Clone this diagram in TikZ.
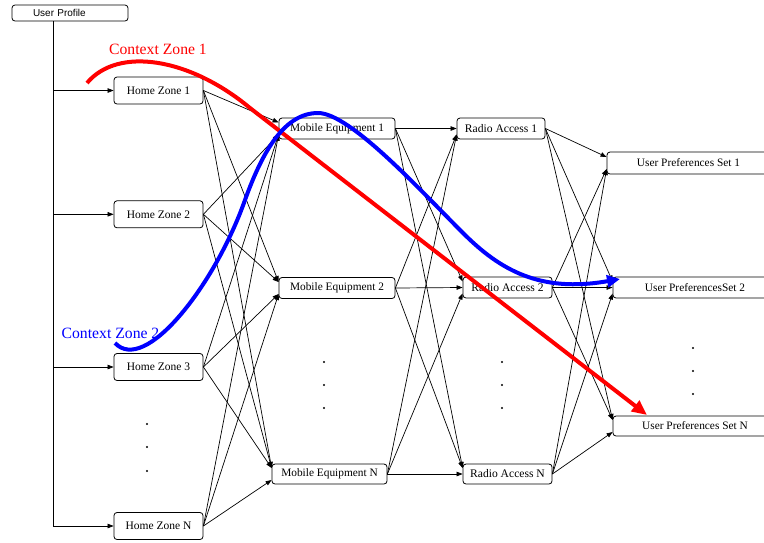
\documentclass[tikz,border=0pt]{standalone}
\usepackage{fontspec}
\setmainfont{Liberation Serif}
\newfontfamily\profilefont{Liberation Sans}
\usetikzlibrary{arrows.meta}
\begin{document}
\begin{tikzpicture}[x=1pt,y=-1pt,
  box/.style={draw, line width=0.8pt, rounded corners=3pt, fill=white,
    inner sep=0pt, font=\fontsize{11.35}{12}\selectfont},
  hzbox/.style={box, minimum width=89pt, minimum height=27pt,
    font=\fontsize{11.5}{12}\selectfont},
  rabox/.style={box, minimum width=89pt, font=\fontsize{11.6}{12}\selectfont},
  conn/.style={line width=0.7pt, -{Triangle[length=6pt,width=4.5pt]}},
  zone/.style={line width=4pt, line cap=butt},
  zonelabel/.style={inner sep=0pt, font=\fontsize{15.7}{18}\selectfont}
]
\useasboundingbox (0,0) rectangle (764,542);
\clip (0,0) rectangle (764,542);

% root of the tree
\node[box, minimum height=16pt, text width=74pt, align=left, inner xsep=21pt,
      font=\profilefont\fontsize{10}{12}\selectfont] (prof) at (70,13) {User Profile};

% home zones
\node[hzbox] (hz1) at (158.5,90.5) {Home Zone 1};
\node[hzbox] (hz2) at (158.5,214.3) {Home Zone 2};
\node[hzbox] (hz3) at (158.5,367) {Home Zone 3};
\node[hzbox] (hz4) at (158.5,526) {Home Zone N};

% mobile equipment
\node[box, minimum width=116pt, minimum height=21pt] (me1) at (337,128.5) {Mobile Equipment 1};
\node[box, minimum width=116pt, minimum height=21pt] (me2) at (337,288) {Mobile Equipment 2};
\node[box, minimum width=115pt, minimum height=20pt] (me3) at (329.5,474) {Mobile Equipment N};

% radio access
\node[rabox, minimum width=88pt, minimum height=21pt] (ra1) at (501,128.5) {Radio Access 1};
\node[rabox, minimum height=21pt] (ra2) at (507.5,287.5) {Radio Access 2};
\node[rabox, minimum height=20pt] (ra3) at (507.5,474) {Radio Access N};

% user preference sets
\node[box, minimum width=163pt, minimum height=22pt] (up1) at (688.5,163) {User Preferences Set 1};
\node[box, minimum width=164pt, minimum height=21pt] (up2) at (695,287.5) {User PreferencesSet 2};
\node[box, minimum width=164pt, minimum height=20pt] (up3) at (695,426) {User Preferences Set N};

% trunk from the profile to the home zones
\coordinate (trunk) at ([xshift=-17pt]prof.south);
\draw[line width=0.7pt] (trunk) -- (trunk |- hz4);
\foreach \h in {hz1,hz2,hz3,hz4}
  \draw[conn] (trunk |- \h) -- (\h.west);

% full mesh between neighbouring columns
\foreach \s/\t/\o in {
    hz1/me1/6, hz2/me1/-6, hz3/me1/-6, hz4/me1/-6,
    hz1/me2/6, hz2/me2/6,  hz3/me2/-6, hz4/me2/-6,
    hz1/me3/6, hz2/me3/6,  hz3/me3/6,  hz4/me3/-6,
    me1/ra1/0, me1/ra2/6,  me1/ra3/6,
    me2/ra1/-6, me2/ra2/0, me2/ra3/6,
    me3/ra1/-6, me3/ra2/-6, me3/ra3/0,
    ra1/up1/6, ra2/up1/-6, ra3/up1/-6,
    ra1/up2/6, ra2/up2/0,  ra3/up2/-6,
    ra1/up3/6, ra2/up3/6,  ra3/up3/-6}
  \draw[conn] (\s.east) -- ([yshift=\o pt]\t.west);

% ellipsis dots in each column
\foreach \x/\y in {147/424, 147/447, 147/471,
                   324/362, 324/385, 324/408,
                   502/362, 502/385, 502/408,
                   693/348, 693/371, 693/394}
  \fill (\x,\y) circle (1.2pt);

% context zones
\node[zonelabel, text=red] (cz1) at (158,49.5) {Context Zone 1};
\node[zonelabel, text=blue] (cz2) at (110.5,333) {Context Zone 2};

\draw[zone, red, -{Triangle[length=15pt,width=13pt]}]
  (87,83) .. controls (118,46) and (190,58) .. (250,108) -- (647,415);

\draw[zone, blue, -{Triangle[length=13pt,width=12pt]}]
  (115,343) .. controls (145,375) and (215,285) .. (245,200)
  .. controls (263,150) and (285,113) .. (318,113)
  .. controls (350,113) and (420,190) .. (463,233)
  .. controls (500,270) and (540,293) .. (620,279);
\end{tikzpicture}
\end{document}
